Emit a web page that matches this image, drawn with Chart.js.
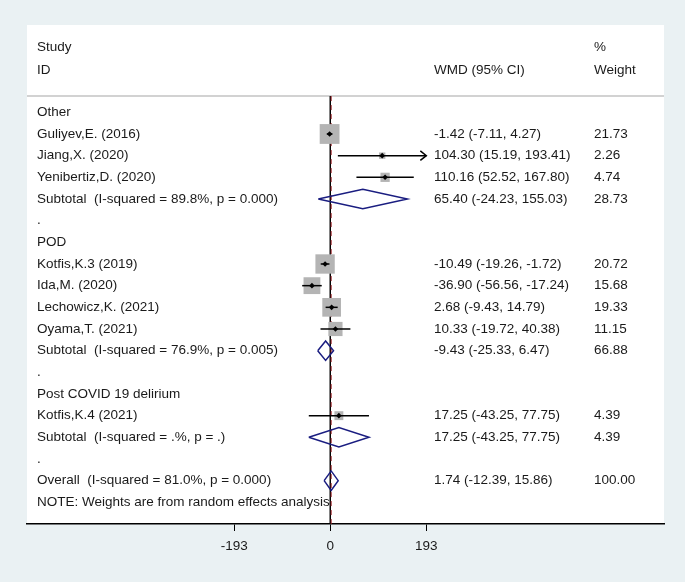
<!DOCTYPE html>
<html>
<head>
<meta charset="utf-8">
<script src="https://cdn.jsdelivr.net/npm/chart.js@4.4.1/dist/chart.umd.min.js"></script>
<style>
  body { margin: 0; background: #eaf1f3; }
  #wrap { width: 685px; height: 582px; }
</style>
</head>
<body>
<div id="wrap"><canvas id="forest" width="685" height="582"></canvas></div>
<script>
// ---- row labels (left column), one per plot row ----
const rowLabels = [
  "Other",
  "Guliyev,E. (2016)",
  "Jiang,X. (2020)",
  "Yenibertiz,D. (2020)",
  "Subtotal  (I-squared = 89.8%, p = 0.000)",
  ".",
  "POD",
  "Kotfis,K.3 (2019)",
  "Ida,M. (2020)",
  "Lechowicz,K. (2021)",
  "Oyama,T. (2021)",
  "Subtotal  (I-squared = 76.9%, p = 0.005)",
  ".",
  "Post COVID 19 delirium",
  "Kotfis,K.4 (2021)",
  "Subtotal  (I-squared = .%, p = .)",
  ".",
  "Overall  (I-squared = 81.0%, p = 0.000)",
  "NOTE: Weights are from random effects analysis"
];

// ---- individual studies ----
const studyRows   = [1, 2, 3, 7, 8, 9, 10, 14];
const studyWmd    = [-1.42, 104.30, 110.16, -10.49, -36.90, 2.68, 10.33, 17.25];
const studyLo     = [-7.11, 15.19, 52.52, -19.26, -56.56, -9.43, -19.72, -43.25];
const studyHi     = [4.27, 193.41, 167.80, -1.72, -17.24, 14.79, 40.38, 77.75];
const studyWeight = [21.73, 2.26, 4.74, 20.72, 15.68, 19.33, 11.15, 4.39];

// ---- pooled estimates (subtotals + overall) ----
const poolRows   = [4, 11, 15, 17];
const poolWmd    = [65.40, -9.43, 17.25, 1.74];
const poolLo     = [-24.23, -25.33, -43.25, -12.39];
const poolHi     = [155.03, 6.47, 77.75, 15.86];
const poolWeight = [28.73, 66.88, 4.39, 100.00];

// axis ticks
const axisTicks = [-193, 0, 193];

const overallWmd = poolWmd[poolWmd.length - 1];
const fmt = v => v.toFixed(2);
const FONT = "'Liberation Sans', Arial, sans-serif";

// -----------------------------
// build datasets
// -----------------------------
const datasets = [];

// null line (x = 0) and overall dashed line
datasets.push({
  type: "line", data: [{x: 0, y: -0.75}, {x: 0, y: 19.0}],
  borderColor: "#000", borderWidth: 1, pointRadius: 0, order: 10
});
datasets.push({
  type: "line", data: [{x: overallWmd, y: -0.75}, {x: overallWmd, y: 19.0}],
  borderColor: "#9b2226", borderWidth: 1, borderDash: [5, 4], pointRadius: 0, order: 9
});

// weight boxes
datasets.push({
  type: "scatter",
  data: studyRows.map((r, i) => ({x: studyWmd[i], y: r})),
  pointStyle: "rect",
  pointRadius: studyWeight.map(w => 4.25 * Math.sqrt(w) / Math.SQRT2),
  backgroundColor: "#b4b4b4", borderWidth: 0, order: 5
});

// confidence interval lines (clipped at axis limit, arrow drawn)
const xLimit = axisTicks[axisTicks.length - 1];
studyRows.forEach((r, i) => {
  const hi = Math.min(studyHi[i], xLimit);
  const lo = Math.max(studyLo[i], -xLimit);
  datasets.push({
    type: "line", data: [{x: lo, y: r}, {x: hi, y: r}],
    borderColor: "#000", borderWidth: 1.5, pointRadius: 0, order: 3
  });
  if (studyHi[i] > xLimit) {
    datasets.push({
      type: "line",
      data: [{x: xLimit - 12, y: r - 0.22}, {x: xLimit, y: r}, {x: xLimit - 12, y: r + 0.22}],
      borderColor: "#000", borderWidth: 1.5, pointRadius: 0, order: 3
    });
  }
});

// point estimates
datasets.push({
  type: "scatter",
  data: studyRows.map((r, i) => ({x: studyWmd[i], y: r})),
  pointStyle: "rectRot", pointRadius: 2.8,
  backgroundColor: "#000", borderWidth: 0, order: 1
});

// pooled diamonds
poolRows.forEach((r, i) => {
  datasets.push({
    type: "line",
    data: [
      {x: poolLo[i], y: r}, {x: poolWmd[i], y: r - 0.45},
      {x: poolHi[i], y: r}, {x: poolWmd[i], y: r + 0.45},
      {x: poolLo[i], y: r}
    ],
    borderColor: "#1a1d80", borderWidth: 1.5, pointRadius: 0, fill: false, order: 2
  });
});

// -----------------------------
// panel + text plugin
// -----------------------------
const forestText = {
  id: "forestText",
  beforeDraw(chart) {
    const {ctx, chartArea: a} = chart;
    ctx.save();
    ctx.fillStyle = "#fff";
    ctx.fillRect(a.left, a.top, a.right - a.left, a.bottom - a.top);
    // header separator
    const ySep = chart.scales.y.getPixelForValue(-0.75);
    ctx.strokeStyle = "#d2d2d2";
    ctx.lineWidth = 2;
    ctx.beginPath();
    ctx.moveTo(a.left, ySep);
    ctx.lineTo(a.right, ySep);
    ctx.stroke();
    ctx.restore();
  },
  afterDraw(chart) {
    const {ctx} = chart;
    const y = chart.scales.y;
    const xLab = 37, xCi = 434, xW = 594;
    ctx.save();
    ctx.font = "13.5px " + FONT;
    ctx.fillStyle = "#1a1a1a";
    ctx.textBaseline = "middle";
    ctx.textAlign = "left";

    // header
    ctx.fillText("Study", xLab, y.getPixelForValue(-3));
    ctx.fillText("ID", xLab, y.getPixelForValue(-1.95));
    ctx.fillText("WMD (95% CI)", xCi, y.getPixelForValue(-1.95));
    ctx.fillText("%", xW, y.getPixelForValue(-3));
    ctx.fillText("Weight", xW, y.getPixelForValue(-1.95));

    rowLabels.forEach((t, r) => ctx.fillText(t, xLab, y.getPixelForValue(r)));

    studyRows.forEach((r, i) => {
      const py = y.getPixelForValue(r);
      ctx.fillText(`${fmt(studyWmd[i])} (${fmt(studyLo[i])}, ${fmt(studyHi[i])})`, xCi, py);
      ctx.fillText(fmt(studyWeight[i]), xW, py);
    });
    poolRows.forEach((r, i) => {
      const py = y.getPixelForValue(r);
      ctx.fillText(`${fmt(poolWmd[i])} (${fmt(poolLo[i])}, ${fmt(poolHi[i])})`, xCi, py);
      ctx.fillText(fmt(poolWeight[i]), xW, py);
    });
    ctx.restore();
  }
};

new Chart(document.getElementById("forest"), {
  type: "scatter",
  data: { datasets },
  options: {
    responsive: false,
    animation: false,
    layout: { padding: { left: 27, right: 21, top: 25, bottom: 0 } },
    plugins: { legend: { display: false }, tooltip: { enabled: false } },
    scales: {
      x: {
        type: "linear",
        min: -609.8,
        max: 670.9,
        afterBuildTicks: s => { s.ticks = axisTicks.map(v => ({value: v})); },
        afterFit: s => { s.height = 58; },
        grid: { drawOnChartArea: false, drawTicks: true, tickLength: 7, color: "#000" },
        border: { display: true, color: "#000", width: 1.5 },
        ticks: {
          color: "#1a1a1a", padding: 7,
          font: { family: FONT, size: 13.5 },
          callback: v => String(v)
        }
      },
      y: {
        type: "linear",
        display: false,
        reverse: true,
        min: -4.03,
        max: 19.0
      }
    }
  },
  plugins: [forestText]
});
</script>
</body>
</html>
